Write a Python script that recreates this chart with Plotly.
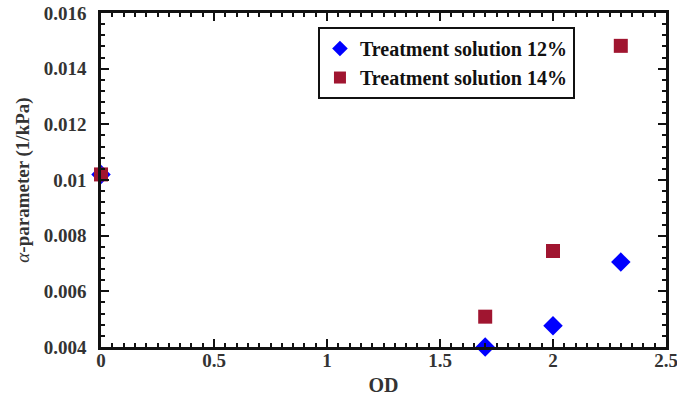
import plotly.graph_objects as go

# Optical density values and fitted alpha parameters
od_12 = [0.0, 1.7, 2.0, 2.3]
alpha_12 = [0.0102, 0.0040, 0.00476, 0.00705]

od_14 = [0.0, 1.7, 2.0, 2.3]
alpha_14 = [0.0102, 0.00509, 0.00745, 0.01482]

x_ticks = [0, 0.5, 1, 1.5, 2, 2.5]
x_tick_text = ["0", "0.5", "1", "1.5", "2", "2.5"]
y_ticks = [0.004, 0.006, 0.008, 0.01, 0.012, 0.014, 0.016]
y_tick_text = ["0.004", "0.006", "0.008", "0.01", "0.012", "0.014", "0.016"]

FONT = "Liberation Serif, Times New Roman, serif"

fig = go.Figure()
fig.add_trace(go.Scatter(
    x=od_12, y=alpha_12, mode="markers", name="<b>Treatment solution 12%</b>",
    marker=dict(symbol="diamond", size=15, color="#0000ff",
                line=dict(width=0)),
    cliponaxis=False,
))
fig.add_trace(go.Scatter(
    x=od_14, y=alpha_14, mode="markers", name="<b>Treatment solution 14%</b>",
    marker=dict(symbol="square", size=14, color="#a01530"),
    cliponaxis=False,
))

axis_common = dict(
    showgrid=False, zeroline=False, showline=True, linecolor="#111111", linewidth=2.5,
    mirror="ticks", ticks="inside", ticklen=8, tickwidth=2, tickcolor="#111111",
    tickfont=dict(family=FONT, size=19, color="#333333"),
    automargin=False, ticklabeloverflow="allow",
)

fig.update_xaxes(
    range=[0, 2.5], tickvals=x_ticks, ticktext=["<b>%s</b>" % t for t in x_tick_text],
    title=dict(text="<b>OD</b>", font=dict(family=FONT, size=20, color="#333333"), standoff=9),
    minor=dict(dtick=0.05, ticks="inside", ticklen=4, tickwidth=1.5, tickcolor="#111111"),
    ticklabelstandoff=-6,
    **axis_common,
)
fig.update_yaxes(
    range=[0.004, 0.016], tickvals=y_ticks, ticktext=["<b>%s</b>" % t for t in y_tick_text],
    title=dict(text="<i>α</i><b>-parameter (1/kPa)</b>", font=dict(family=FONT, size=19, color="#333333"), standoff=10),
    minor=dict(dtick=0.0004, ticks="inside", ticklen=4, tickwidth=1.5, tickcolor="#111111"),
    ticklabelstandoff=8,
    **axis_common,
)

fig.update_layout(
    width=677, height=399,
    margin=dict(l=101, r=11, t=13, b=52),
    paper_bgcolor="white", plot_bgcolor="white",
    showlegend=True,
    legend=dict(
        x=0.384, y=0.958, xanchor="left", yanchor="top",
        bordercolor="#111111", borderwidth=2, bgcolor="white",
        font=dict(family=FONT, size=20, color="#111111"),
        itemsizing="constant", tracegroupgap=0,
    ),
)

fig.write_html("out.html")
